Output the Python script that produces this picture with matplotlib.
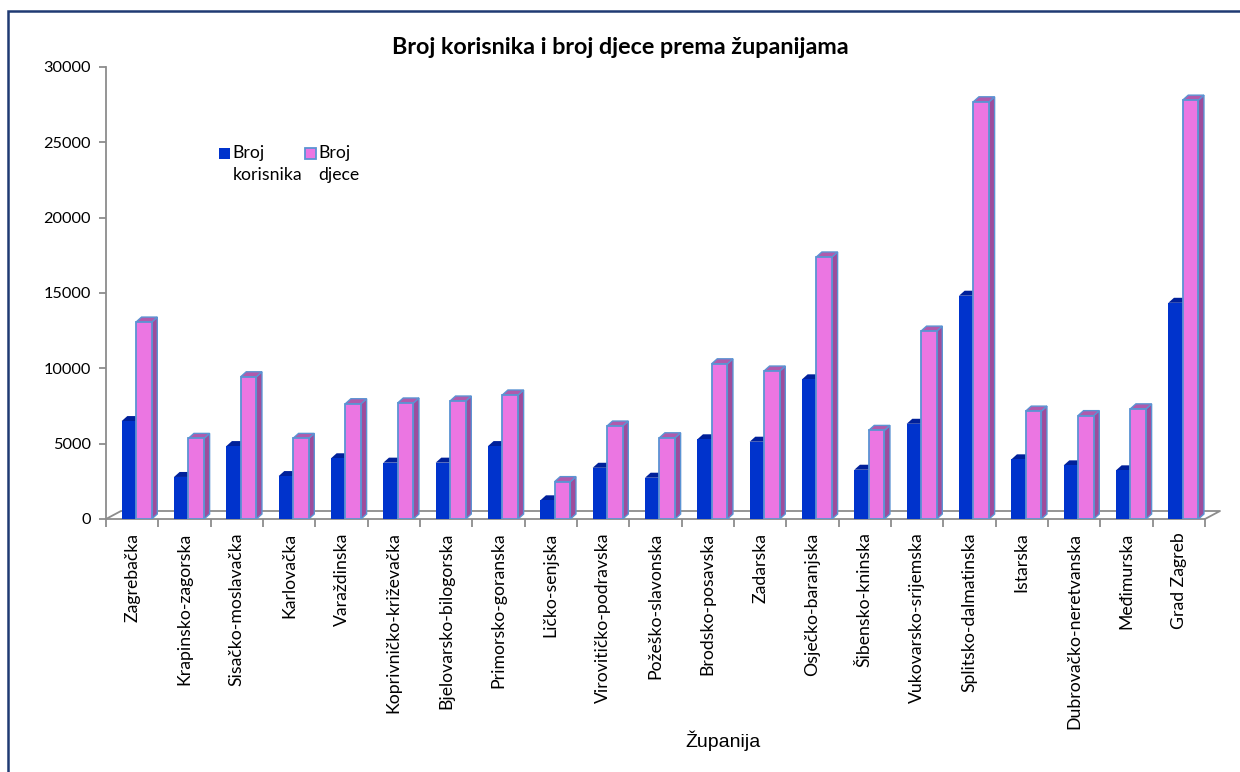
import matplotlib.pyplot as plt
from matplotlib.patches import Polygon, Rectangle
from matplotlib.legend_handler import HandlerPatch

# Broj korisnika i djece po županijama
zupanije = [
    "Zagrebačka", "Krapinsko-zagorska", "Sisačko-moslavačka", "Karlovačka",
    "Varaždinska", "Koprivničko-križevačka", "Bjelovarsko-bilogorska",
    "Primorsko-goranska", "Ličko-senjska", "Virovitičko-podravska",
    "Požeško-slavonska", "Brodsko-posavska", "Zadarska", "Osječko-baranjska",
    "Šibensko-kninska", "Vukovarsko-srijemska", "Splitsko-dalmatinska",
    "Istarska", "Dubrovačko-neretvanska", "Međimurska", "Grad Zagreb",
]
korisnici = [6500, 2790, 4840, 2850, 4030, 3740, 3740, 4840, 1240, 3400, 2740,
             5290, 5130, 9270, 3270, 6320, 14820, 3960, 3560, 3230, 14350]
djeca = [13070, 5350, 9440, 5350, 7650, 7700, 7830, 8230, 2480, 6170, 5390,
         10300, 9820, 17390, 5880, 12470, 27690, 7160, 6860, 7310, 27800]
y_ticks = [0, 5000, 10000, 15000, 20000, 25000, 30000]

BLUE = "#0033CC"
BLUE_TOP = "#00209A"
PINK = "#EB76E2"
PINK_SIDE = "#9E4C9C"
PINK_TOP = "#B05AAC"
EDGE = "#5B93D3"
AXIS = "#8C8C8C"


class FirstLineSquare(HandlerPatch):
    # legend square next to the first line of a two-line label
    def create_artists(self, legend, orig_handle, xdescent, ydescent,
                       width, height, fontsize, trans):
        s = 0.62 * fontsize
        p = Rectangle((-xdescent, -ydescent + 0.62 * fontsize), s, s)
        self.update_prop(p, orig_handle, legend)
        p.set_transform(trans)
        return [p]


W, H = 1240, 772
fig = plt.figure(figsize=(W / 100, H / 100), dpi=100)
plt.rcParams['font.family'] = ['Lato', 'DejaVu Sans']

# plot area in pixels
left, right, top, bottom = 106, 1205, 67, 519
ax = fig.add_axes([left / W, 1 - bottom / H, (right - left) / W, (bottom - top) / H])
ax.set_xlim(0, len(zupanije))
ax.set_ylim(0, 30000)

# depth of the pseudo-3D faces in data units
dx = 0.107
dy = 5 / (bottom - top) * 30000
fdx = 15 / (right - left) * len(zupanije)
fdy = 8 / (bottom - top) * 30000

# floor
ax.plot([0, fdx, len(zupanije) + fdx, len(zupanije)], [0, fdy, fdy, 0],
        color=AXIS, lw=1.3, clip_on=False, zorder=1)

for i, (k, d) in enumerate(zip(korisnici, djeca)):
    b0, b1 = i + 0.30, i + 0.573
    p0, p1 = b1, i + 0.873
    # blue column
    ax.add_patch(Polygon([(b0, k), (b0 + dx, k + dy), (b1 + dx, k + dy), (b1, k)],
                         closed=True, facecolor=BLUE_TOP, edgecolor="none", zorder=2))
    ax.add_patch(Rectangle((b0, 0), b1 - b0, k, facecolor=BLUE, edgecolor="none", zorder=3))
    # pink column
    ax.add_patch(Polygon([(p1, 0), (p1 + dx, dy), (p1 + dx, d + dy), (p1, d)],
                         closed=True, facecolor=PINK_SIDE, edgecolor=EDGE, lw=1.0, zorder=4))
    ax.add_patch(Polygon([(p0, d), (p0 + dx, d + dy), (p1 + dx, d + dy), (p1, d)],
                         closed=True, facecolor=PINK_TOP, edgecolor=EDGE, lw=1.0, zorder=4))
    ax.add_patch(Rectangle((p0, 0), p1 - p0, d, facecolor=PINK, edgecolor=EDGE, lw=1.3, zorder=5))

for s in ["top", "right"]:
    ax.spines[s].set_visible(False)
for s in ["left", "bottom"]:
    ax.spines[s].set_color(AXIS)
    ax.spines[s].set_linewidth(1.3)

ax.set_yticks(y_ticks)
ax.set_yticklabels([str(v) for v in y_ticks])
ax.tick_params(axis="y", length=5, width=1.3, color=AXIS, labelsize=11.7, pad=6)
ax.set_xticks(range(len(zupanije) + 1), minor=False)
ax.set_xticklabels([])
ax.tick_params(axis="x", length=6, width=1.3, color=AXIS)
for i, name in enumerate(zupanije):
    ax.text(i + 0.5, -900, name, rotation=90, ha="center", va="top",
            fontsize=12.7, clip_on=False)

fig.text(0.5, 1 - 47 / H, "Broj korisnika i broj djece prema županijama",
         ha="center", va="center", fontsize=16.8, fontweight="bold")
fig.text(723 / W, 1 - 741 / H, "Županija", ha="center", va="center",
         fontsize=14, family=["Liberation Sans"])

handles = [Rectangle((0, 0), 1, 1, facecolor=BLUE, edgecolor="none"),
           Rectangle((0, 0), 1, 1, facecolor=PINK, edgecolor=EDGE, lw=1.3)]
leg = fig.legend(handles, ["Broj\nkorisnika", "Broj\ndjece"], ncol=2, frameon=False,
                 loc="upper left", bbox_to_anchor=(210 / W, 1 - 136 / H),
                 handlelength=0.65, handleheight=0.65, handletextpad=0.12,
                 columnspacing=0.15, fontsize=12.7, borderpad=0,
                 handler_map={Rectangle: FirstLineSquare()})
for t in leg.get_texts():
    t.set_linespacing(1.45)

# chart border
fig.patches.append(Rectangle((7.5 / W, -0.1), 1.2, 1.1 - 10.5 / H,
                             transform=fig.transFigure, fill=False,
                             edgecolor="#1F3A73", lw=1.8))

fig.savefig("out.png", dpi=100)
